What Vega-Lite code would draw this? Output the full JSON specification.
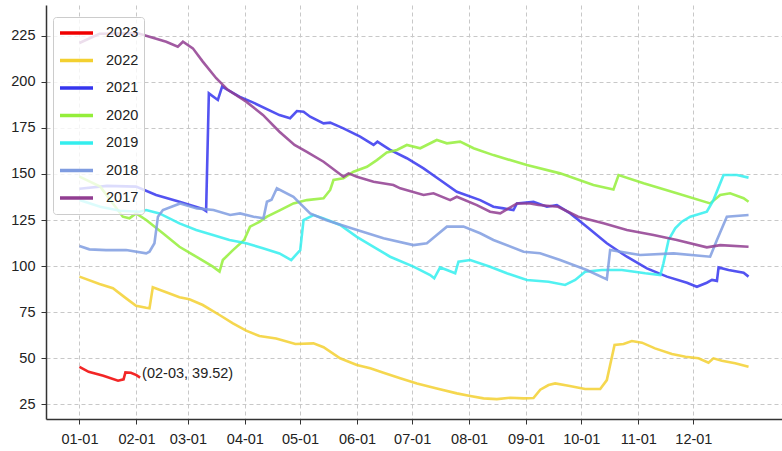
{
  "$schema": "https://vega.github.io/schema/vega-lite/v6.json",
  "width": 736,
  "height": 414,
  "autosize": "none",
  "padding": {"left": 46, "top": 5, "right": 0, "bottom": 32},
  "background": "white",
  "config": {
    "view": {"stroke": null},
    "font": "Liberation Sans"
  },
  "datasets": {
    "lines": [
      {"year":"2023","day":0,"value":45.4},{"year":"2023","day":5,"value":42.7},{"year":"2023","day":13,"value":40.6},{"year":"2023","day":21,"value":37.9},{"year":"2023","day":24,"value":38.6},{"year":"2023","day":25,"value":42.4},{"year":"2023","day":28,"value":42.2},{"year":"2023","day":31,"value":40.9},{"year":"2023","day":33,"value":39.52},

      {"year":"2022","day":0,"value":94.3},{"year":"2022","day":10.9,"value":90.3},{"year":"2022","day":18.2,"value":88},{"year":"2022","day":25.4,"value":82.5},{"year":"2022","day":30.8,"value":78.5},{"year":"2022","day":36.3,"value":77.4},{"year":"2022","day":38.1,"value":77.1},{"year":"2022","day":39.9,"value":88.5},{"year":"2022","day":47.2,"value":85.8},{"year":"2022","day":54.4,"value":83.1},{"year":"2022","day":59.8,"value":82},{"year":"2022","day":67.1,"value":78.9},{"year":"2022","day":76.2,"value":73.5},{"year":"2022","day":83.5,"value":69},{"year":"2022","day":90.7,"value":65},{"year":"2022","day":97.9,"value":62.1},{"year":"2022","day":107,"value":60.8},{"year":"2022","day":117.5,"value":57.8},{"year":"2022","day":127.3,"value":58.1},{"year":"2022","day":132.8,"value":56},{"year":"2022","day":141.8,"value":50},{"year":"2022","day":150.9,"value":46.4},{"year":"2022","day":158.2,"value":44.6},{"year":"2022","day":165.4,"value":42.2},{"year":"2022","day":174.5,"value":39.2},{"year":"2022","day":183.6,"value":36.4},{"year":"2022","day":194.4,"value":33.7},{"year":"2022","day":205.3,"value":31},{"year":"2022","day":212.6,"value":29.6},{"year":"2022","day":219.8,"value":28.3},{"year":"2022","day":227.1,"value":27.9},{"year":"2022","day":234.3,"value":28.6},{"year":"2022","day":241.6,"value":28.3},{"year":"2022","day":247,"value":28.5},{"year":"2022","day":250.7,"value":33},{"year":"2022","day":255.2,"value":35.5},{"year":"2022","day":258.8,"value":36.4},{"year":"2022","day":266,"value":35.1},{"year":"2022","day":275.1,"value":33.4},{"year":"2022","day":283.3,"value":33.4},{"year":"2022","day":286.9,"value":38.2},{"year":"2022","day":291.1,"value":57.2},{"year":"2022","day":296,"value":57.8},{"year":"2022","day":300.5,"value":59.4},{"year":"2022","day":306,"value":58.5},{"year":"2022","day":313.1,"value":55.4},{"year":"2022","day":322.3,"value":52.3},{"year":"2022","day":329.7,"value":50.9},{"year":"2022","day":336.8,"value":50},{"year":"2022","day":342.2,"value":47.6},{"year":"2022","day":344.9,"value":50},{"year":"2022","day":349.5,"value":48.7},{"year":"2022","day":356.7,"value":47.3},{"year":"2022","day":364,"value":45.4},

      {"year":"2021","day":0,"value":142},{"year":"2021","day":15,"value":143.5},{"year":"2021","day":30.8,"value":143.1},{"year":"2021","day":41.7,"value":138.6},{"year":"2021","day":54.4,"value":134.9},{"year":"2021","day":67.1,"value":131},{"year":"2021","day":68.9,"value":129.8},{"year":"2021","day":70.4,"value":193.7},{"year":"2021","day":75.3,"value":190.1},{"year":"2021","day":77.6,"value":197.3},{"year":"2021","day":87,"value":191.9},{"year":"2021","day":94.3,"value":188.8},{"year":"2021","day":108.8,"value":181.9},{"year":"2021","day":114.6,"value":180.2},{"year":"2021","day":118.3,"value":184.1},{"year":"2021","day":121.9,"value":183.7},{"year":"2021","day":125.5,"value":181},{"year":"2021","day":132.8,"value":177.4},{"year":"2021","day":136.4,"value":177.8},{"year":"2021","day":143.6,"value":174.7},{"year":"2021","day":152.7,"value":170.2},{"year":"2021","day":160,"value":165.7},{"year":"2021","day":162.1,"value":167.5},{"year":"2021","day":165.4,"value":165.3},{"year":"2021","day":169,"value":163},{"year":"2021","day":178.1,"value":158.5},{"year":"2021","day":187.2,"value":153},{"year":"2021","day":196.2,"value":146.7},{"year":"2021","day":205.3,"value":140.3},{"year":"2021","day":218,"value":135.8},{"year":"2021","day":225.2,"value":132.2},{"year":"2021","day":230.7,"value":131.3},{"year":"2021","day":236.1,"value":130.4},{"year":"2021","day":238,"value":134},{"year":"2021","day":247,"value":134.9},{"year":"2021","day":254.3,"value":132.2},{"year":"2021","day":259.7,"value":133.1},{"year":"2021","day":267,"value":128.6},{"year":"2021","day":276,"value":121.4},{"year":"2021","day":286.9,"value":112.4},{"year":"2021","day":297.8,"value":105.1},{"year":"2021","day":308.7,"value":98.8},{"year":"2021","day":319.6,"value":94.3},{"year":"2021","day":330.5,"value":91},{"year":"2021","day":335.9,"value":88.8},{"year":"2021","day":341.3,"value":91},{"year":"2021","day":344.1,"value":92.5},{"year":"2021","day":346.8,"value":92},{"year":"2021","day":347.7,"value":99.3},{"year":"2021","day":353.1,"value":97.9},{"year":"2021","day":361.3,"value":96.4},{"year":"2021","day":364,"value":94.3},

      {"year":"2020","day":0,"value":148.5},{"year":"2020","day":11.3,"value":143.1},{"year":"2020","day":23.6,"value":126.8},{"year":"2020","day":27.2,"value":125.9},{"year":"2020","day":30.8,"value":128.6},{"year":"2020","day":36.3,"value":125},{"year":"2020","day":45.4,"value":117.8},{"year":"2020","day":54.4,"value":110.5},{"year":"2020","day":63.5,"value":105.1},{"year":"2020","day":72.6,"value":99.7},{"year":"2020","day":76.2,"value":97},{"year":"2020","day":78,"value":103.3},{"year":"2020","day":83.5,"value":108.7},{"year":"2020","day":89.6,"value":114.2},{"year":"2020","day":92.8,"value":121.4},{"year":"2020","day":97.9,"value":124},{"year":"2020","day":102,"value":126.8},{"year":"2020","day":109.2,"value":130.4},{"year":"2020","day":116.4,"value":134},{"year":"2020","day":123.7,"value":135.8},{"year":"2020","day":132.8,"value":136.8},{"year":"2020","day":136.4,"value":141.3},{"year":"2020","day":138.2,"value":146.7},{"year":"2020","day":143.6,"value":147.6},{"year":"2020","day":149.1,"value":151.2},{"year":"2020","day":156.4,"value":153.9},{"year":"2020","day":161.8,"value":157.5},{"year":"2020","day":167.2,"value":161.6},{"year":"2020","day":172.7,"value":163},{"year":"2020","day":178.1,"value":165.7},{"year":"2020","day":185.4,"value":163.9},{"year":"2020","day":194.4,"value":168.4},{"year":"2020","day":199.9,"value":166.6},{"year":"2020","day":207.1,"value":167.5},{"year":"2020","day":214.4,"value":163.9},{"year":"2020","day":225.2,"value":160.2},{"year":"2020","day":243.4,"value":154.8},{"year":"2020","day":261.5,"value":150.3},{"year":"2020","day":279.6,"value":144},{"year":"2020","day":290.5,"value":141.6},{"year":"2020","day":293.3,"value":149.4},{"year":"2020","day":306.9,"value":144.9},{"year":"2020","day":325,"value":139.5},{"year":"2020","day":343.1,"value":134},{"year":"2020","day":348.6,"value":138.6},{"year":"2020","day":354,"value":139.5},{"year":"2020","day":361.3,"value":136.8},{"year":"2020","day":364,"value":134.9},

      {"year":"2019","day":0,"value":135.8},{"year":"2019","day":11.3,"value":132.2},{"year":"2019","day":22,"value":130},{"year":"2019","day":32.6,"value":129.5},{"year":"2019","day":36.3,"value":130.4},{"year":"2019","day":43.5,"value":128.6},{"year":"2019","day":54.4,"value":123.2},{"year":"2019","day":63.5,"value":119.6},{"year":"2019","day":72.6,"value":116.9},{"year":"2019","day":81.6,"value":114.2},{"year":"2019","day":90.7,"value":112.4},{"year":"2019","day":99.8,"value":109.7},{"year":"2019","day":108.8,"value":106.9},{"year":"2019","day":115.2,"value":103.3},{"year":"2019","day":120.1,"value":108.7},{"year":"2019","day":121.9,"value":125},{"year":"2019","day":127.3,"value":127.7},{"year":"2019","day":132.8,"value":125.9},{"year":"2019","day":141.8,"value":122.3},{"year":"2019","day":150.9,"value":115.9},{"year":"2019","day":160,"value":110.5},{"year":"2019","day":169,"value":105.1},{"year":"2019","day":181.7,"value":99.7},{"year":"2019","day":190.8,"value":95.2},{"year":"2019","day":193,"value":93.4},{"year":"2019","day":196.2,"value":99.3},{"year":"2019","day":199.9,"value":97.9},{"year":"2019","day":204.4,"value":96.1},{"year":"2019","day":206.2,"value":102.4},{"year":"2019","day":212.6,"value":103.3},{"year":"2019","day":223.4,"value":99.7},{"year":"2019","day":232.5,"value":96.1},{"year":"2019","day":243.4,"value":92.5},{"year":"2019","day":255.2,"value":91.5},{"year":"2019","day":264.2,"value":89.8},{"year":"2019","day":269.7,"value":92.5},{"year":"2019","day":275.1,"value":97},{"year":"2019","day":284.2,"value":97.9},{"year":"2019","day":295.1,"value":97.9},{"year":"2019","day":307.8,"value":96.1},{"year":"2019","day":316,"value":95.2},{"year":"2019","day":317.7,"value":101.5},{"year":"2019","day":320.5,"value":114.2},{"year":"2019","day":324.1,"value":120.5},{"year":"2019","day":327.7,"value":124.1},{"year":"2019","day":332.3,"value":126.8},{"year":"2019","day":341.3,"value":129.5},{"year":"2019","day":344.9,"value":135.8},{"year":"2019","day":350.4,"value":149.4},{"year":"2019","day":357.7,"value":149.4},{"year":"2019","day":364,"value":148},

      {"year":"2018","day":0,"value":110.9},{"year":"2018","day":5.4,"value":109.1},{"year":"2018","day":14.5,"value":108.7},{"year":"2018","day":25.4,"value":108.7},{"year":"2018","day":36.3,"value":106.9},{"year":"2018","day":38.1,"value":107.8},{"year":"2018","day":40.8,"value":112.4},{"year":"2018","day":42.7,"value":126.8},{"year":"2018","day":45.4,"value":130.4},{"year":"2018","day":54.8,"value":134},{"year":"2018","day":63.9,"value":131.3},{"year":"2018","day":72.9,"value":130.4},{"year":"2018","day":82,"value":127.7},{"year":"2018","day":87.4,"value":128.6},{"year":"2018","day":94.7,"value":126.8},{"year":"2018","day":100.1,"value":125.9},{"year":"2018","day":102,"value":134.9},{"year":"2018","day":104.5,"value":136},{"year":"2018","day":107.4,"value":142.2},{"year":"2018","day":116.4,"value":137.6},{"year":"2018","day":125.5,"value":128.6},{"year":"2018","day":134,"value":125},{"year":"2018","day":148,"value":120.5},{"year":"2018","day":165.4,"value":115.1},{"year":"2018","day":181.7,"value":111.4},{"year":"2018","day":189,"value":112.4},{"year":"2018","day":194.4,"value":116.9},{"year":"2018","day":199.9,"value":121.4},{"year":"2018","day":208.9,"value":121.4},{"year":"2018","day":218,"value":117.8},{"year":"2018","day":225.2,"value":114.2},{"year":"2018","day":241.6,"value":107.8},{"year":"2018","day":250.6,"value":107},{"year":"2018","day":261.5,"value":103.3},{"year":"2018","day":276,"value":97.9},{"year":"2018","day":286.9,"value":92.8},{"year":"2018","day":288.7,"value":108.7},{"year":"2018","day":305,"value":106},{"year":"2018","day":323.2,"value":106.9},{"year":"2018","day":343.1,"value":105.1},{"year":"2018","day":346.8,"value":114.2},{"year":"2018","day":352.2,"value":126.8},{"year":"2018","day":364,"value":127.7},

      {"year":"2017","day":0,"value":221},{"year":"2017","day":10.9,"value":226},{"year":"2017","day":31.8,"value":226.3},{"year":"2017","day":38.1,"value":224.4},{"year":"2017","day":47.2,"value":221.7},{"year":"2017","day":53.5,"value":219},{"year":"2017","day":56.3,"value":221.7},{"year":"2017","day":61.7,"value":218.1},{"year":"2017","day":67.1,"value":210.9},{"year":"2017","day":74.4,"value":201.9},{"year":"2017","day":80.7,"value":195.6},{"year":"2017","day":90.7,"value":189.2},{"year":"2017","day":99.8,"value":182},{"year":"2017","day":108.8,"value":172.9},{"year":"2017","day":117,"value":165.7},{"year":"2017","day":123.7,"value":162},{"year":"2017","day":132.8,"value":156.6},{"year":"2017","day":143.6,"value":148.5},{"year":"2017","day":146.4,"value":150.3},{"year":"2017","day":150.9,"value":148.5},{"year":"2017","day":160,"value":145.8},{"year":"2017","day":170.8,"value":144},{"year":"2017","day":174.5,"value":142.2},{"year":"2017","day":187.2,"value":138.6},{"year":"2017","day":192.6,"value":139.5},{"year":"2017","day":201.7,"value":135.8},{"year":"2017","day":205.3,"value":137.6},{"year":"2017","day":216.2,"value":133.1},{"year":"2017","day":223.4,"value":129.5},{"year":"2017","day":228.9,"value":128.6},{"year":"2017","day":238,"value":134},{"year":"2017","day":245.2,"value":134},{"year":"2017","day":249.7,"value":133.1},{"year":"2017","day":260.4,"value":132.2},{"year":"2017","day":271.3,"value":126.8},{"year":"2017","day":285.1,"value":123.2},{"year":"2017","day":297.8,"value":119.6},{"year":"2017","day":312.3,"value":116.9},{"year":"2017","day":325,"value":114.2},{"year":"2017","day":341.3,"value":110.2},{"year":"2017","day":348.6,"value":111.4},{"year":"2017","day":364,"value":110.5}
    ],
    "note": [
      {"day": 33, "value": 39.52, "label": "(02-03, 39.52)"}
    ]
  },
  "layer": [
    {
      "data": {"name": "lines"},
      "mark": {"type": "line", "strokeWidth": 2.6, "opacity": 0.85},
      "encoding": {
        "x": {
          "field": "day",
          "type": "quantitative",
          "scale": {"domain": [-18.2, 382.2], "nice": false, "zero": false},
          "axis": {
            "title": null,
            "values": [0, 31, 59, 90, 120, 151, 181, 212, 243, 273, 304, 334],
            "labelExpr": "timeFormat(datetime(2021, 0, 1 + datum.value), '%m-%d')",
            "grid": true,
            "gridDash": [4, 3],
            "gridColor": "#c8c8c8",
            "domainColor": "#333333",
            "domainWidth": 1.5,
            "tickColor": "#333333",
            "tickSize": 5,
            "labelFontSize": 14.5,
            "labelColor": "#222222",
            "labelPadding": 8
          }
        },
        "y": {
          "field": "value",
          "type": "quantitative",
          "scale": {"domain": [17.1, 241.6], "nice": false, "zero": false},
          "axis": {
            "title": null,
            "values": [25, 50, 75, 100, 125, 150, 175, 200, 225],
            "grid": true,
            "gridDash": [4, 3],
            "gridColor": "#c8c8c8",
            "domainColor": "#333333",
            "domainWidth": 1.5,
            "tickColor": "#333333",
            "tickSize": 5,
            "labelFontSize": 14.5,
            "labelColor": "#222222",
            "labelPadding": 6
          }
        },
        "color": {
          "field": "year",
          "type": "nominal",
          "scale": {
            "domain": ["2023", "2022", "2021", "2020", "2019", "2018", "2017"],
            "range": ["#f00000", "#f3d030", "#3535ee", "#94ee3a", "#33eeee", "#7f9ce0", "#913d91"]
          },
          "legend": {
            "orient": "none",
            "legendX": 7,
            "legendY": 12,
            "title": null,
            "symbolType": "stroke",
            "symbolSize": 1089,
            "symbolStrokeWidth": 3.5,
            "symbolOpacity": 1,
            "labelFontSize": 14.5,
            "labelColor": "#222222",
            "labelOffset": 11,
            "padding": 5,
            "clipHeight": 22,
            "rowPadding": 5.5,
            "strokeColor": "#cccccc",
            "fillColor": "rgba(255,255,255,0.8)",
            "cornerRadius": 3
          }
        }
      }
    },
    {
      "data": {"name": "note"},
      "mark": {"type": "text", "align": "left", "baseline": "alphabetic", "dx": 2, "fontSize": 14.5, "color": "#222222"},
      "encoding": {
        "x": {"field": "day", "type": "quantitative"},
        "y": {"field": "value", "type": "quantitative"},
        "text": {"field": "label"}
      }
    }
  ]
}
